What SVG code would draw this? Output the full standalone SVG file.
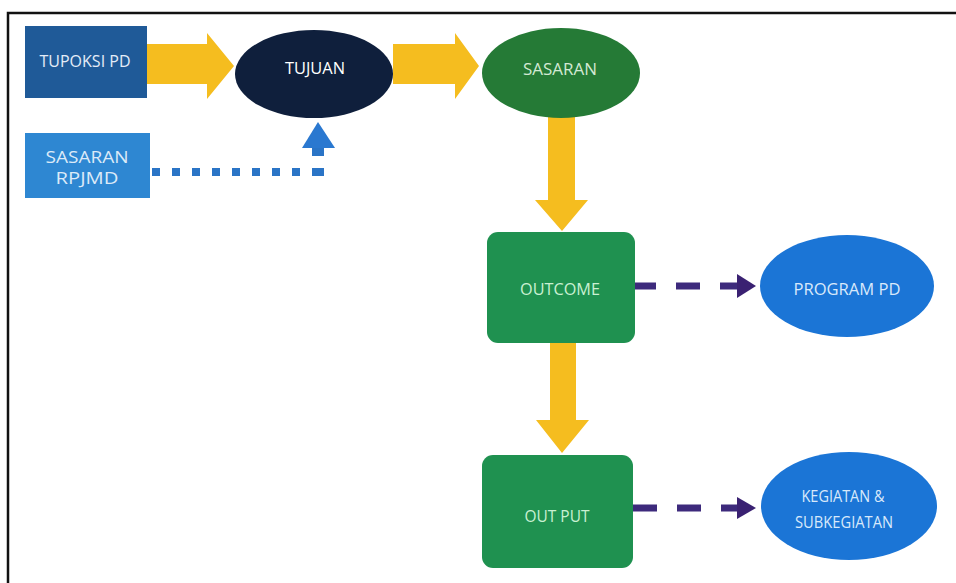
<svg xmlns="http://www.w3.org/2000/svg" width="956" height="583" viewBox="0 0 956 583">
  <defs>
    <style>
      .lbl { font-family: "Open Sans", "Liberation Sans", sans-serif; font-size: 17px; text-anchor: middle; }
      .yarrow { fill: #f5bd1f; }
      .purple { stroke: #3d2a7c; stroke-width: 7; stroke-dasharray: 24 20; fill: none; }
      .phead { fill: #3a2172; }
    </style>
  </defs>
  <rect x="0" y="0" width="956" height="583" fill="#ffffff"/>
  <!-- frame -->
  <path d="M8 583 V13 H956" fill="none" stroke="#111" stroke-width="2.5"/>

  <g id="connectors">
    <!-- TUPOKSI -> TUJUAN -->
    <polygon class="yarrow" points="147,44 207,44 207,33 234,66 207,99 207,84 147,84"/>
    <!-- TUJUAN -> SASARAN -->
    <polygon class="yarrow" points="393,44 455,44 455,33 479,66 455,99 455,84 393,84"/>
    <!-- SASARAN -> OUTCOME -->
    <polygon class="yarrow" points="548,117 575,117 575,200 588,200 562,231 535,200 548,200"/>
    <!-- OUTCOME -> OUTPUT -->
    <polygon class="yarrow" points="550,343 576,343 576,420 589,420 562,453 536,420 550,420"/>
    <!-- SASARAN RPJMD -> TUJUAN (dotted) -->
    <path d="M152 172 H306" stroke="#2a74c6" stroke-width="8" stroke-dasharray="8 12" fill="none"/>
    <rect x="312" y="168" width="12" height="8" fill="#2a74c6"/>
    <rect x="312" y="146" width="12" height="10" fill="#2a74c6"/>
    <polygon points="302,148 318,122 335,148" fill="#2a78d0"/>
    <!-- OUTCOME -> PROGRAM PD -->
    <path class="purple" d="M632 286 H740"/>
    <polygon class="phead" points="737,274 756,286 737,298"/>
    <!-- OUTPUT -> KEGIATAN -->
    <path class="purple" d="M633 508 H740"/>
    <polygon class="phead" points="737,497 756,508 737,519"/>
  </g>

  <g id="tupoksi">
    <rect x="25" y="26" width="122" height="72" fill="#1f5a98"/>
    <text class="lbl" x="85" y="67" fill="#e3ecf7" textLength="91" lengthAdjust="spacingAndGlyphs">TUPOKSI PD</text>
  </g>
  <g id="tujuan">
    <ellipse cx="314" cy="74" rx="79" ry="44" fill="#0f1f3c"/>
    <text class="lbl" x="315" y="74" fill="#ffffff" textLength="60" lengthAdjust="spacingAndGlyphs">TUJUAN</text>
  </g>
  <g id="sasaran">
    <ellipse cx="561" cy="73" rx="79" ry="45" fill="#257a36"/>
    <text class="lbl" x="560" y="75" fill="#d3e9d3" textLength="74" lengthAdjust="spacingAndGlyphs">SASARAN</text>
  </g>
  <g id="sasaran-rpjmd">
    <rect x="25" y="133" width="125" height="65" fill="#2e87d2"/>
    <text class="lbl" x="87" y="163" fill="#dbeaf8" textLength="83" lengthAdjust="spacingAndGlyphs">SASARAN</text>
    <text class="lbl" x="87" y="184" fill="#dbeaf8" textLength="63" lengthAdjust="spacingAndGlyphs">RPJMD</text>
  </g>
  <g id="outcome">
    <rect x="487" y="232" width="148" height="111" rx="11" fill="#1f9150"/>
    <text class="lbl" x="560" y="295" fill="#c9f0d2" textLength="80" lengthAdjust="spacingAndGlyphs">OUTCOME</text>
  </g>
  <g id="program-pd">
    <ellipse cx="847" cy="286" rx="87" ry="51" fill="#1b75d6"/>
    <text class="lbl" x="847" y="295" fill="#d8e9fb" textLength="107" lengthAdjust="spacingAndGlyphs">PROGRAM PD</text>
  </g>
  <g id="output">
    <rect x="482" y="455" width="151" height="113" rx="11" fill="#1f9150"/>
    <text class="lbl" x="557" y="522" fill="#c9f0d2" textLength="65" lengthAdjust="spacingAndGlyphs">OUT PUT</text>
  </g>
  <g id="kegiatan">
    <ellipse cx="849" cy="506" rx="88" ry="54" fill="#1b75d6"/>
    <text class="lbl" x="843" y="502" fill="#d8e9fb" textLength="83" lengthAdjust="spacingAndGlyphs">KEGIATAN &amp;</text>
    <text class="lbl" x="844" y="528" fill="#d8e9fb" textLength="98" lengthAdjust="spacingAndGlyphs">SUBKEGIATAN</text>
  </g>
</svg>
